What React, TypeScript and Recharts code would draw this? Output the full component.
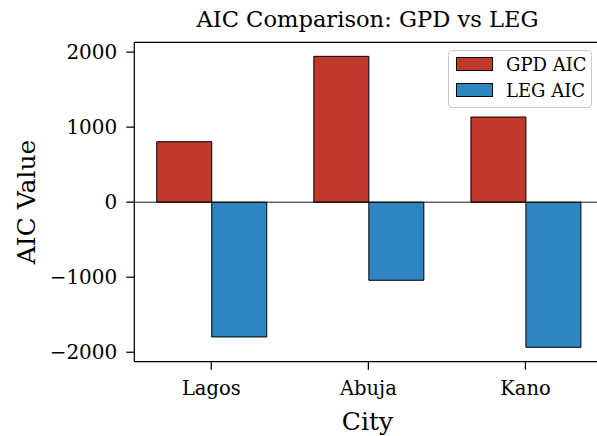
import { BarChart, Bar, XAxis, YAxis, ReferenceLine, Legend, Label } from "recharts"

const cities = ["Lagos", "Abuja", "Kano"]
const gpdAic = [806, 1944, 1135]
const legAic = [-1796, -1041, -1934]
const yTicks = [-2000, -1000, 0, 1000, 2000]
const yDomain = [-2126, 2131]

const FONT = "'DejaVu Serif', serif"
const RED = "#c0392b"
const BLUE = "#2e86c1"

const data = cities.map((city, i) => ({ city, gpd: gpdAic[i], leg: legAic[i] }))

const fmt = (v: number) => (v < 0 ? "\u2212" + Math.abs(v) : String(v))

function LegendBox({ payload }: any) {
  return (
    <div
      style={{
        border: "1px solid #cccccc",
        borderRadius: 4,
        background: "rgba(255,255,255,0.8)",
        padding: "0 7px 4px 7px",
        fontFamily: FONT,
        fontSize: 18,
        width: 128,
        whiteSpace: "nowrap",
      }}
    >
      {(payload || []).map((p: any) => (
        <div key={p.value} style={{ display: "flex", alignItems: "center", height: 26 }}>
          <span
            style={{
              display: "inline-block",
              width: 35,
              height: 12,
              background: p.color,
              border: "1px solid #000",
              marginRight: 13,
              flexShrink: 0,
            }}
          />
          <span>{p.value}</span>
        </div>
      ))}
    </div>
  )
}

export default function App() {
  return (
    <div style={{ position: "fixed", left: 0, top: 0, width: 597, height: 436, overflow: "hidden", background: "#fff" }}>
      <BarChart
        width={610}
        height={436}
        data={data}
        margin={{ top: 42.3, right: 6, bottom: 0, left: 0 }}
        barGap={0}
        style={{ fontFamily: FONT }}
      >
        <XAxis
          dataKey="city"
          height={74.3}
          tickSize={8}
          tickMargin={11}
          padding={{ left: -1.55, right: 0 }}
          axisLine={{ stroke: "#000", strokeWidth: 1.25 }}
          tickLine={{ stroke: "#000", strokeWidth: 1.25 }}
          tick={{ fill: "#000", fontSize: 19.5, fontFamily: FONT }}
        >
          <Label
            content={() => (
              <text x={367.5} y={430} textAnchor="middle" fontFamily={FONT} fontSize={25} fill="#000">
                City
              </text>
            )}
          />
        </XAxis>
        <YAxis
          width={134.3}
          domain={yDomain}
          ticks={yTicks}
          tickFormatter={fmt}
          tickSize={8}
          tickMargin={9}
          axisLine={{ stroke: "#000", strokeWidth: 1.25 }}
          tickLine={{ stroke: "#000", strokeWidth: 1.25 }}
          tick={{ fill: "#000", fontSize: 20, fontFamily: FONT }}
          allowDataOverflow
        >
          <Label
            content={() => (
              <text
                x={26}
                y={202}
                transform="rotate(-90, 26, 202)"
                textAnchor="middle"
                dominantBaseline="central"
                fontFamily={FONT}
                fontSize={25}
                fill="#000"
              >
                AIC Value
              </text>
            )}
          />
          <Label
            content={() => (
              <text x={367.5} y={26.7} textAnchor="middle" fontFamily={FONT} fontSize={22.6} fill="#000">
                AIC Comparison: GPD vs LEG
              </text>
            )}
          />
        </YAxis>
        <ReferenceLine y={yDomain[1]} stroke="#000" strokeWidth={1.25} ifOverflow="visible" />
        <ReferenceLine y={0} stroke="#000" strokeWidth={0.9} />
        <Bar dataKey="gpd" name="GPD AIC" fill={RED} stroke="#000" strokeWidth={1} barSize={55} isAnimationActive={false} />
        <Bar dataKey="leg" name="LEG AIC" fill={BLUE} stroke="#000" strokeWidth={1} barSize={55} isAnimationActive={false} />
        <Legend
          layout="horizontal"
          verticalAlign="middle"
          align="center"
          content={LegendBox}
          wrapperStyle={{ left: 448, top: 50, width: "auto", height: "auto" }}
        />
      </BarChart>
    </div>
  )
}
